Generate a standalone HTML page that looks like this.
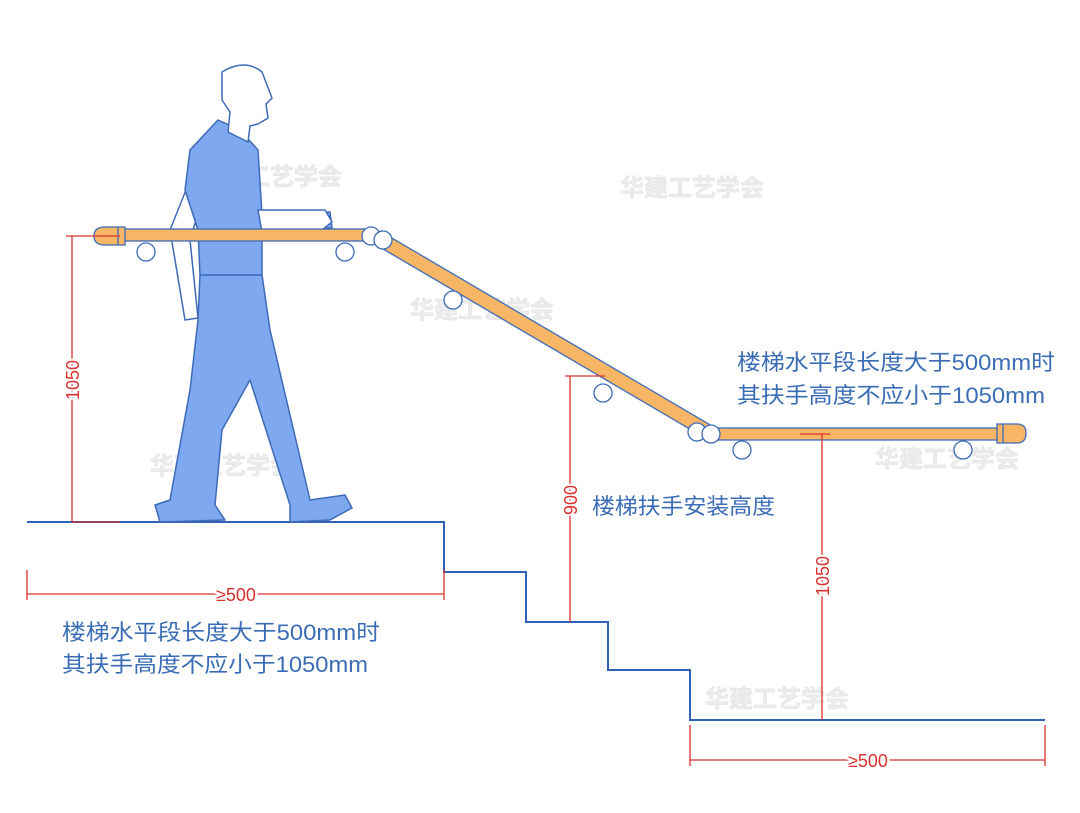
<!DOCTYPE html>
<html><head><meta charset="utf-8"><style>
html,body{margin:0;padding:0;background:#fff}
svg{display:block}
text{font-family:"Liberation Sans","Noto Sans CJK SC",sans-serif}
</style></head><body>
<svg width="1080" height="813" viewBox="0 0 1080 813" xmlns="http://www.w3.org/2000/svg">
<!-- watermarks -->
<g fill="#ececec" font-size="24" font-weight="bold" stroke="#e0e0e0" stroke-width="0.5">
<text x="198" y="185">华建工艺学会</text>
<text x="620" y="196">华建工艺学会</text>
<text x="410" y="318">华建工艺学会</text>
<text x="150" y="474">华建工艺学会</text>
<text x="875" y="467">华建工艺学会</text>
<text x="705" y="707">华建工艺学会</text>
</g>
<!-- stairs -->
<polyline points="27,522 444,522 444,572 526,572 526,622 608,622 608,670 690,670 690,720 1045,720" fill="none" stroke="#2f62b8" stroke-width="2"/>
<!-- person -->
<g stroke="#3d6bb8" stroke-width="1.5" stroke-linejoin="round">
<path d="M190,180 L170,230 L185,320 L198,318 L190,240 L205,190 Z" fill="#fff"/>
<path d="M200,275 L262,275 L270,330 L310,500 L345,495 L352,508 L330,520 L290,522 L290,505 L250,380 L222,430 L215,505 L225,520 L160,522 L155,505 L170,500 L190,390 L198,320 Z" fill="#7ea8ef"/>
<path d="M218,120 L240,130 L258,150 L262,215 L330,212 L332,228 L262,232 L262,275 L200,275 L198,230 L185,190 L190,150 Z" fill="#7ea8ef"/>
<path d="M258,210 L325,210 L332,222 L322,230 L262,232 Z" fill="#fff"/>
<path d="M222,72 Q245,58 262,72 L272,98 L266,104 L268,118 L258,124 L250,126 L248,142 L228,132 L230,112 L222,100 Z" fill="#fff"/>
</g>
<!-- handrail -->
<g stroke="#3d6bb8" stroke-width="1.3">
<rect x="118" y="229" width="250" height="12" fill="#f6b665"/>
<path d="M385,234 L712,426 L705,438 L378,246 Z" fill="#f6b665"/>
<rect x="715" y="428" width="285" height="12" fill="#f6b665"/>
<path d="M125,227 L105,227 Q94,227 94,236 Q94,245 105,245 L125,245 Z" fill="#f6b665"/>
<line x1="118" y1="227" x2="118" y2="245"/>
<path d="M997,424 L1017,424 Q1026,424 1026,433 Q1026,443 1017,443 L997,443 Z" fill="#f6b665"/>
<line x1="1003" y1="424" x2="1003" y2="443"/>
<circle cx="371" cy="236" r="9" fill="#fff"/><circle cx="383" cy="240" r="9" fill="#fff"/>
<circle cx="697" cy="432" r="9" fill="#fff"/><circle cx="711" cy="434" r="9" fill="#fff"/>
<g fill="#fff">
<circle cx="146" cy="252" r="9"/><circle cx="345" cy="252" r="9"/>
<circle cx="453" cy="300" r="9"/><circle cx="603" cy="393" r="9"/>
<circle cx="742" cy="450" r="9"/><circle cx="963" cy="450" r="9"/>
</g>
</g>
<!-- dimensions -->
<g stroke="#d8312f" stroke-width="1.3" fill="none">
<line x1="72" y1="236" x2="72" y2="522"/><line x1="66" y1="236" x2="120" y2="236"/><line x1="72" y1="522" x2="120" y2="522"/>
<line x1="27" y1="594" x2="444" y2="594"/><line x1="27" y1="570" x2="27" y2="600"/><line x1="444" y1="570" x2="444" y2="600"/>
<line x1="570" y1="376" x2="570" y2="622"/><line x1="565" y1="376" x2="605" y2="376"/>
<line x1="822" y1="434" x2="822" y2="720"/><line x1="800" y1="434" x2="830" y2="434"/>
<line x1="690" y1="760" x2="1045" y2="760"/><line x1="690" y1="725" x2="690" y2="766"/><line x1="1045" y1="725" x2="1045" y2="766"/>
</g>
<g fill="#d8312f" font-size="18">
<text transform="translate(79,380) rotate(-90)" text-anchor="middle" stroke="#fff" stroke-width="4" paint-order="stroke">1050</text>
<text transform="translate(577,500) rotate(-90)" text-anchor="middle" stroke="#fff" stroke-width="4" paint-order="stroke">900</text>
<text transform="translate(829,576) rotate(-90)" text-anchor="middle" stroke="#fff" stroke-width="4" paint-order="stroke">1050</text>
<text x="236" y="601" text-anchor="middle" stroke="#fff" stroke-width="5" paint-order="stroke">≥500</text>
<text x="868" y="767" text-anchor="middle" stroke="#fff" stroke-width="5" paint-order="stroke">≥500</text>
</g>
<g fill="#3a6db5" font-size="22">
<text x="737" y="370" textLength="318" lengthAdjust="spacingAndGlyphs">楼梯水平段长度大于500mm时</text>
<text x="737" y="403" textLength="308" lengthAdjust="spacingAndGlyphs">其扶手高度不应小于1050mm</text>
<text x="592" y="514" textLength="183" lengthAdjust="spacingAndGlyphs">楼梯扶手安装高度</text>
<text x="62" y="640" textLength="318" lengthAdjust="spacingAndGlyphs">楼梯水平段长度大于500mm时</text>
<text x="62" y="672" textLength="306" lengthAdjust="spacingAndGlyphs">其扶手高度不应小于1050mm</text>
</g>
</svg>
</body></html>
